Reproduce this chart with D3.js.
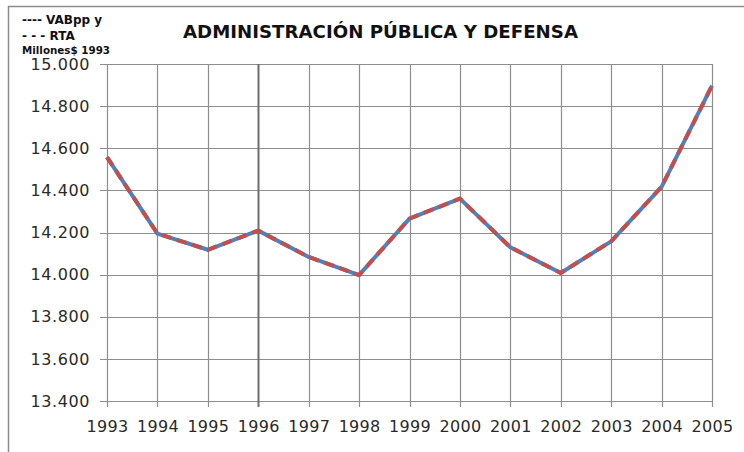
<!DOCTYPE html>
<html>
<head>
<meta charset="utf-8">
<script src="https://cdn.jsdelivr.net/npm/d3@7"></script>
<style>
  html, body { margin: 0; padding: 0; background: #fff; }
  svg { display: block; }
</style>
</head>
<body>
<svg id="chart" width="744" height="452"></svg>
<script>
// Series: administración pública y defensa, millones de $ de 1993
const years = [1993, 1994, 1995, 1996, 1997, 1998, 1999, 2000, 2001, 2002, 2003, 2004, 2005];
const vabpp = [14558, 14195, 14118, 14209, 14084, 13998, 14266, 14361, 14130, 14008, 14158, 14417, 14897];
const rta   = [14558, 14195, 14118, 14209, 14084, 13998, 14266, 14361, 14130, 14008, 14158, 14417, 14897];
const yTicks = [13400, 13600, 13800, 14000, 14200, 14400, 14600, 14800, 15000];
const titleText = "ADMINISTRACIÓN PÚBLICA Y DEFENSA";
const legendLines = ["---- VABpp y", "- - - RTA"];
const unitText = "Millones$ 1993";

const svg = d3.select("#chart");
const font = "'DejaVu Sans', Verdana, sans-serif";

const x = d3.scaleLinear().domain([1993, 2005]).range([107, 712]);
const y = d3.scaleLinear().domain([13400, 15000]).range([401, 64]);

const esLocale = d3.formatLocale({ decimal: ",", thousands: ".", grouping: [3], currency: ["$", ""] });
const fmtY = esLocale.format(",.0f");

// Outer frame (top and left edges visible)
svg.append("path")
  .attr("d", "M8.5,452 L8.5,6.5 L744,6.5")
  .attr("fill", "none")
  .attr("stroke", "#8c8c8c")
  .attr("stroke-width", 1.5);

// Horizontal gridlines
svg.append("g").selectAll("line").data(yTicks).join("line")
  .attr("x1", 100).attr("x2", x(2005))
  .attr("y1", d => Math.round(y(d)) + 0.5).attr("y2", d => Math.round(y(d)) + 0.5)
  .attr("stroke", "#8e8e8e").attr("stroke-width", 1.2);

// Vertical gridlines
svg.append("g").selectAll("line").data(years).join("line")
  .attr("x1", d => Math.round(x(d)) + 0.5).attr("x2", d => Math.round(x(d)) + 0.5)
  .attr("y1", y(15000)).attr("y2", y(13400) + 6)
  .attr("stroke", d => d === 1996 ? "#6e6e6e" : "#8e8e8e")
  .attr("stroke-width", d => d === 1996 ? 2 : 1.2);

// Y axis labels
const yAxis = d3.axisLeft(y).tickValues(yTicks).tickFormat(fmtY).tickSize(0).tickPadding(17);
const gy = svg.append("g").attr("transform", `translate(${x(1993)},0)`).call(yAxis);
gy.select(".domain").remove();
gy.selectAll("text")
  .attr("font-family", font).attr("font-size", 16).attr("fill", "#2a2a2a")
  .attr("letter-spacing", 0.6);

// X axis labels
const xAxis = d3.axisBottom(x).tickValues(years).tickFormat(d3.format("d")).tickSize(0).tickPadding(20);
const gx = svg.append("g").attr("transform", `translate(0,${y(13400)})`).call(xAxis);
gx.select(".domain").remove();
gx.selectAll("text")
  .attr("font-family", font).attr("font-size", 16).attr("fill", "#2a2a2a")
  .attr("letter-spacing", 0.3);

// Series lines
const line = d3.line().x((d, i) => x(years[i])).y(d => y(d));
svg.append("path").datum(vabpp)
  .attr("d", line).attr("fill", "none")
  .attr("stroke", "#4f81bd").attr("stroke-width", 4)
  .attr("stroke-linejoin", "round");
svg.append("path").datum(rta)
  .attr("d", line).attr("fill", "none")
  .attr("stroke", "#c0504d").attr("stroke-width", 4)
  .attr("stroke-dasharray", "10,6");

// Title
svg.append("text")
  .attr("x", 183).attr("y", 38)
  .attr("textLength", 395).attr("lengthAdjust", "spacingAndGlyphs")
  .attr("font-family", font).attr("font-weight", "bold").attr("font-size", 17)
  .attr("fill", "#111")
  .text(titleText);

// Legend notes
svg.append("g").selectAll("text").data(legendLines).join("text")
  .attr("x", 22).attr("y", (d, i) => 24 + i * 16)
  .attr("font-family", font).attr("font-weight", "bold").attr("font-size", 12)
  .attr("fill", "#111")
  .text(d => d);

svg.append("text")
  .attr("x", 22).attr("y", 54)
  .attr("textLength", 88).attr("lengthAdjust", "spacingAndGlyphs")
  .attr("font-family", font).attr("font-weight", "bold").attr("font-size", 10)
  .attr("fill", "#111")
  .text(unitText);
</script>
</body>
</html>
